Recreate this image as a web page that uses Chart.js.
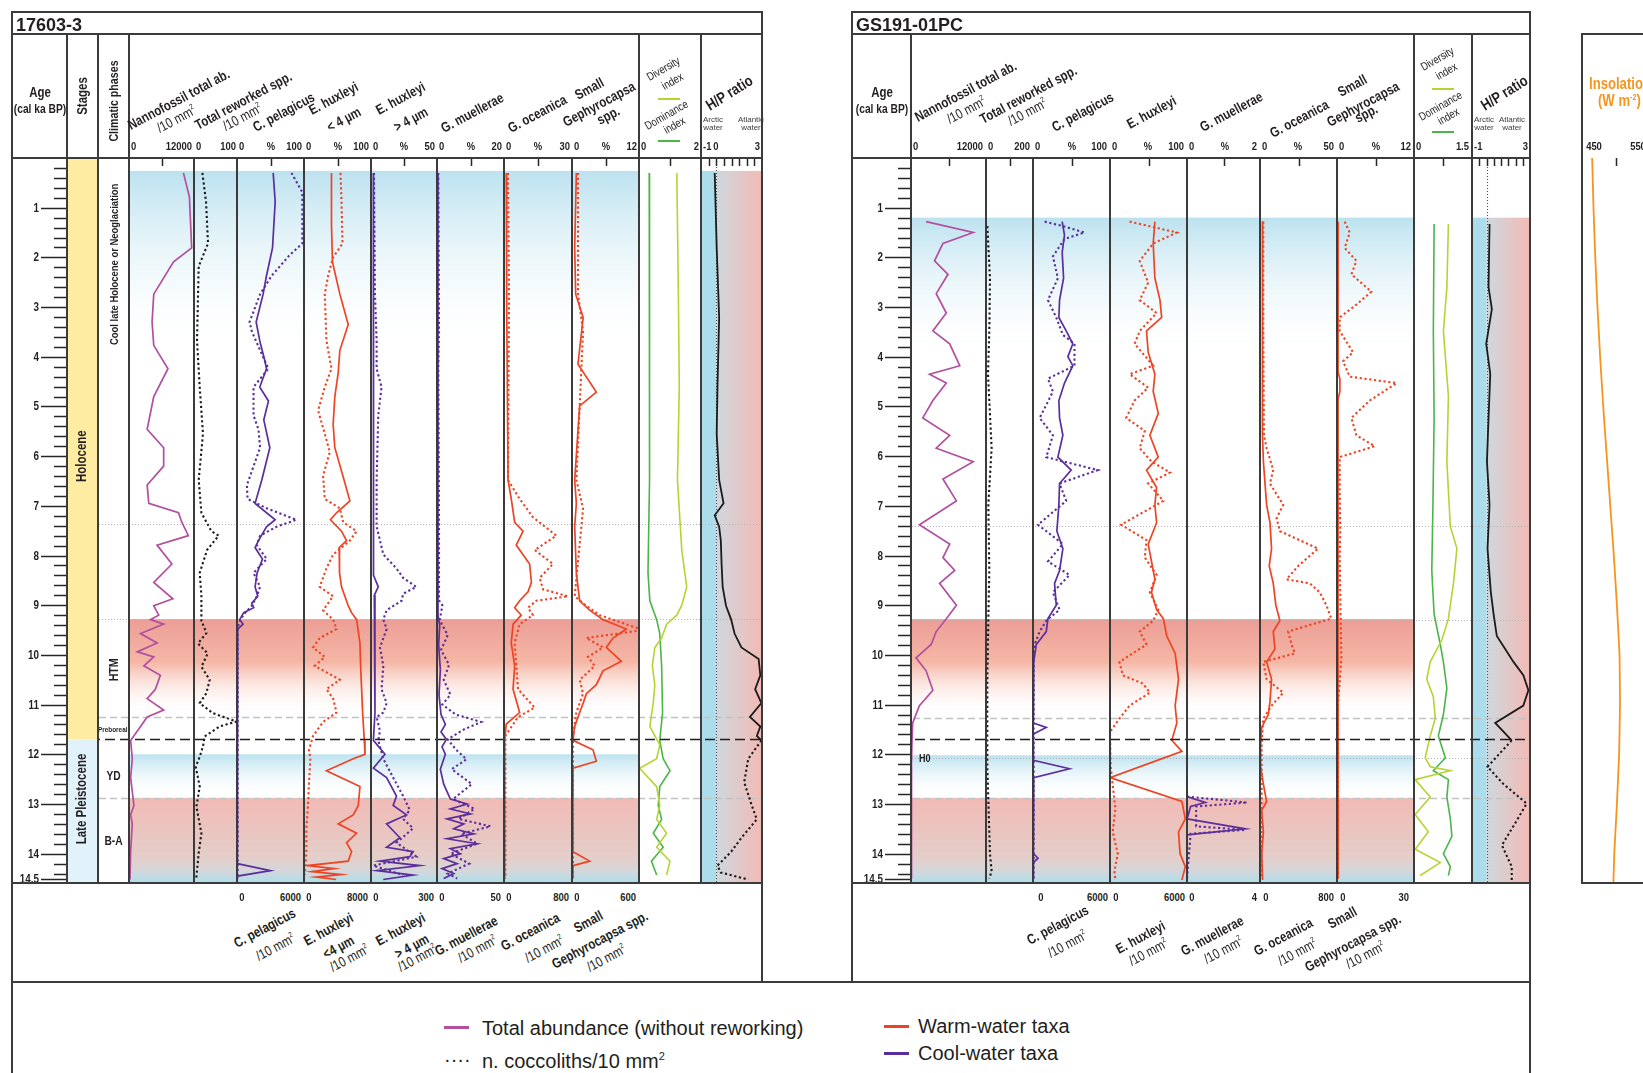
<!DOCTYPE html>
<html>
<head>
<meta charset="utf-8">
<title>Nannofossil records 17603-3 and GS191-01PC</title>
<script src="https://cdn.jsdelivr.net/npm/chart.js@4.4.1/dist/chart.umd.min.js"></script>
<style>
  html, body { margin: 0; padding: 0; background: #fff; }
  #page { position: relative; width: 1643px; height: 1073px; overflow: hidden; color: #231f20;
          font-family: "Liberation Sans", Arial, sans-serif; }
  .t { position: absolute; white-space: nowrap; line-height: 1; }
  .ln { position: absolute; }
  .trk { position: absolute; }
  sup { font-size: 0.55em; position: relative; top: -0.75em; line-height: 0; vertical-align: baseline; }
</style>
</head>
<body>
<div id="page"></div>
<script>
// ---------------------------------------------------------------
// Age axis (cal ka BP), shared by every track
// ---------------------------------------------------------------
const AGE_MAX = 14.59;
const AGE_LABELS = [1, 2, 3, 4, 5, 6, 7, 8, 9, 10, 11, 12, 13, 14, 14.5];

// chronozones: [from, to, kind]
const BANDS_17603 = [[0.26, 4.0, 'cool'], [9.28, 11.22, 'warm'], [12.0, 12.88, 'cool'], [12.88, 14.59, 'ba']];
const BANDS_GS191 = [[1.2, 4.1, 'cool'], [9.28, 11.22, 'warm'], [12.02, 12.88, 'cool'], [12.88, 14.59, 'ba']];
// reference horizons: [age, kind]
const REFS_17603 = [[7.37, 'dot'], [9.28, 'dot'], [11.25, 'dash'], [12.88, 'dash']];
const REFS_GS191 = [[7.4, 'dot'], [9.3, 'dot'], [11.26, 'dash'], [12.07, 'dot'], [12.88, 'dash']];
const HOLOCENE_BASE = 11.7;
const HP_START_17603 = 0.26;
const HP_START_GS191 = 1.2;
// stages: [name, from, to, label age]
const STAGES = [['Holocene', 0, 11.7, 6.0], ['Late Pleistocene', 11.7, 14.59, 12.9]];
// climatic phases: [name, label age, orientation]
const PHASES = [['Cool late Holocene or Neoglaciation', 2.14, 'v'], ['HTM', 10.3, 'v'],
                ['Preboreal', 11.5, 'h'], ['YD', 12.45, 'h'], ['B-A', 13.75, 'h']];

// ---------------------------------------------------------------
// 17603-3  ([age, value] pairs)
// ---------------------------------------------------------------
const NANNO_17603 = [[0.3,10050],[0.78,11150],[1.81,11570],[2.09,8220],[2.74,4570],[3.3,4260],[3.77,4570],[4.24,7190],[4.8,4570],[5.46,3350],[5.83,6400],[6.2,6400],[6.58,3350],[6.95,3650],[7.14,9140],[7.33,9750],[7.6,10960],[7.79,5180],[8.17,7920],[8.54,4570],[8.87,8100],[9.01,4570],[9.2,5480],[9.29,3960],[9.38,6400],[9.57,2130],[9.76,5180],[9.94,1520],[10.04,4570],[10.22,2740],[10.41,5790],[10.69,4870],[10.88,3350],[11.11,6400],[11.25,3350],[11.44,2130],[11.72,300],[12.09,610],[12.47,300],[13.03,910],[13.22,300],[13.4,610],[13.96,300],[14.52,180]];
const REWORK_17603 = [[0.3,19.5],[0.88,28],[1.72,32.6],[2.18,10.9],[3.68,7],[4.61,13.3],[5.55,20.9],[6.48,10.9],[7.14,17.2],[7.51,40.5],[7.6,57.4],[7.89,30.2],[8.35,13.3],[8.82,17.2],[9.31,17.2],[9.56,28.8],[9.77,9.3],[9.97,31.9],[10.24,17.2],[10.5,36.5],[10.77,28.8],[10.97,13.3],[11.17,43.5],[11.34,98.6],[11.44,59.8],[11.64,24.9],[11.84,20.9],[12.05,13.3],[12.25,4],[12.65,13.3],[13.05,5.6],[13.59,17.2],[13.99,10.9],[14.46,5.6],[14.52,4]];
const PEL_PCT_17603 = [[0.3,54],[0.88,57],[1.81,53],[2.37,44],[2.74,39],[3.3,28.6],[3.68,34],[4.05,41],[4.24,44],[4.61,34],[4.89,47],[5.27,40],[5.83,49],[6.48,37],[6.95,27],[7.28,57],[7.42,44],[7.7,32],[7.84,27],[8.07,38],[8.35,30],[8.63,27],[8.82,31],[8.96,22],[9.05,25],[9.15,10],[9.29,4],[9.38,9],[9.48,1],[10.22,0.5],[12,0.5],[14.2,0.6],[14.34,50],[14.45,1],[14.52,0.5]];
const PEL_ABS_17603 = [[0.3,4877],[0.69,5852],[1.72,5852],[1.95,4729],[2.37,3103],[2.74,2069],[3.3,1123],[3.49,1330],[3.87,2069],[4.24,2808],[4.61,1478],[5.18,1478],[5.46,1921],[5.83,2069],[6.3,1330],[6.58,887],[6.86,946],[7.05,2660],[7.28,5320],[7.42,3547],[7.6,2069],[7.79,1773],[8.07,2660],[8.35,1478],[8.63,2069],[8.82,1773],[9.01,1330],[9.15,739],[9.29,296],[9.38,148],[9.5,60],[14.5,60]];
const HUXS_PCT_17603 = [[0.3,41],[1.34,41],[2.09,42.5],[2.74,53.5],[3.35,66],[3.87,53.5],[4.33,51],[4.8,46],[5.36,43.5],[5.83,46],[6.3,56],[6.9,68.5],[7.14,48.5],[7.28,39.5],[7.51,56],[7.7,63.5],[7.84,52.5],[8.07,53.5],[8.35,52.5],[8.63,56],[8.82,61],[9.01,66],[9.15,71],[9.29,78.5],[9.76,83.5],[10.22,84.5],[10.69,86],[11.16,87.5],[11.72,90],[12.0,91],[12.09,73.5],[12.33,33.5],[12.65,83.5],[13.03,81],[13.22,73.5],[13.4,51],[13.59,78.5],[13.78,63.5],[13.96,71],[14.15,66],[14.24,5],[14.3,45],[14.36,12],[14.42,55],[14.47,18],[14.52,48]];
const HUXS_ABS_17603 = [[0.3,4360],[0.88,4480],[1.72,4600],[2.0,3480],[2.37,2880],[2.74,2480],[3.3,2600],[3.68,2680],[4.24,3280],[4.61,2480],[5.08,1680],[5.55,2480],[5.92,3080],[6.39,2280],[6.86,2480],[7.05,4280],[7.33,4680],[7.51,6280],[7.7,5480],[7.98,3480],[8.26,2680],[8.63,1880],[8.82,3480],[9.1,2280],[9.29,3480],[9.48,3880],[9.66,1880],[9.85,1080],[10.04,2480],[10.22,1280],[10.5,4280],[10.69,2680],[10.88,3480],[11.16,3880],[11.35,2280],[11.63,1080],[11.91,600],[12.09,760],[12.56,600],[13.03,480],[13.49,280],[13.96,280],[14.43,80]];
const HUXL_PCT_17603 = [[0.3,1.8],[4,1.8],[8.4,2],[8.63,5.5],[8.8,2.5],[9.29,3],[11.16,3],[11.72,1.8],[12.0,10.6],[12.28,1.8],[12.47,11.8],[12.84,19.3],[13.03,16.8],[13.22,26.9],[13.4,11.8],[13.68,21.9],[13.87,11.8],[13.96,31.9],[14.06,29.4],[14.15,6.8],[14.24,36.9],[14.34,4.3],[14.43,31.9],[14.52,9.3]];
const HUXL_ABS_17603 = [[0.3,13.6],[2.74,18],[3.68,25.6],[4.24,25.6],[4.61,48],[5.18,33],[6.48,25.6],[7.42,25.6],[7.98,56],[8.26,116],[8.45,146],[8.63,206],[8.77,146],[8.91,139],[9.1,71],[9.29,56],[9.48,71],[9.85,40.7],[10.22,56],[10.69,48],[10.97,71],[11.16,56],[11.25,25.6],[11.53,40.7],[11.72,33],[12.09,56],[12.47,101],[12.84,146],[13.12,176],[13.3,146],[13.49,191],[13.78,116],[14.06,206],[14.24,10.5],[14.43,146]];
const MUEL_PCT_17603 = [[0.3,0.3],[9.2,0.3],[9.4,0.8],[9.8,0.5],[10.3,1],[10.8,0.6],[11.2,1.2],[11.4,2.5],[11.55,1.2],[11.7,2.8],[11.85,1.5],[12.0,2.5],[12.3,1],[12.6,2],[12.9,4],[13.0,9],[13.1,4],[13.2,10],[13.3,3],[13.4,8],[13.5,5],[13.6,11],[13.7,3],[13.8,12],[13.9,4],[14.0,7],[14.1,2],[14.2,6],[14.3,1.5],[14.4,5],[14.5,2]];
const MUEL_ABS_17603 = [[0.3,1],[3.5,1.5],[4.2,1],[7.3,1.5],[8.9,1.5],[9.0,4],[9.3,2],[9.6,8],[9.9,3],[10.2,9],[10.5,5],[10.8,10],[11.0,4],[11.2,14],[11.35,33],[11.5,20],[11.7,8],[11.9,14],[12.1,22],[12.3,11],[12.6,26],[12.9,12],[13.1,28],[13.3,16],[13.45,40],[13.6,18],[13.8,30],[14.0,10],[14.2,24],[14.4,8],[14.5,15]];
const OCE_PCT_17603 = [[0.3,1.0],[3,1.2],[6.48,1.8],[6.86,3.2],[7.33,4.7],[7.51,8.4],[7.79,5.4],[8.17,11.3],[8.54,12.1],[8.73,10.6],[8.91,6.9],[9.05,4.7],[9.2,7.6],[9.38,4],[9.76,3.2],[10.22,4.7],[10.69,4],[11.16,6.9],[11.39,1.0],[11.72,0.3],[14.5,0.3]];
const OCE_ABS_17603 = [[0.3,47],[2.74,59],[6.48,47],[6.86,184],[7.23,341],[7.6,616],[7.89,361],[8.17,576],[8.45,420],[8.68,459],[8.82,753],[8.91,380],[9.05,282],[9.2,341],[9.38,184],[9.76,125],[10.22,145],[10.69,165],[11.06,361],[11.25,165],[11.63,16],[14.5,16]];
const SGEP_PCT_17603 = [[0.3,0.78],[1.81,0.48],[2.74,0.66],[3.21,2.0],[4.15,1.07],[4.71,4.36],[4.99,1.37],[6.48,0.48],[6.95,0.78],[7.42,0.48],[8.35,0.78],[8.91,1.37],[9.1,3.16],[9.29,5.55],[9.48,9.73],[9.66,7.34],[9.85,6.15],[10.13,8.84],[10.32,5.55],[10.6,4.36],[10.78,2.57],[10.97,2.0],[11.16,1.37],[11.44,0.48],[11.72,0.18],[11.91,3.76],[12.14,4.36],[12.28,0.18],[13.96,0.18],[14.15,3.16],[14.24,0.18],[14.5,0.18]];
const SGEP_ABS_17603 = [[0.3,54],[2.74,54],[3.49,99],[6.48,39],[7.05,99],[7.42,84],[8.82,24],[9.01,128],[9.2,248],[9.5,636],[9.66,128],[9.85,278],[10.04,143],[10.22,203],[10.5,69],[10.78,99],[11.16,39],[11.63,9],[14.5,9]];
const DIV_17603 = [[0.3,1.22],[2.74,1.27],[4.61,1.3],[6.48,1.24],[7.89,1.38],[8.63,1.54],[9.0,1.38],[9.2,1.22],[9.38,0.89],[9.66,0.73],[9.85,0.51],[10.22,0.43],[10.6,0.51],[10.97,0.46],[11.44,0.35],[11.81,0.67],[12.09,0.57],[12.28,0.02],[12.65,0.57],[13.03,0.67],[13.31,0.57],[13.59,0.89],[13.87,0.57],[14.15,1.0],[14.43,0.89]];
const DOM_17603 = [[0.3,0.33],[2.74,0.33],[6.48,0.35],[8.35,0.29],[8.91,0.35],[9.29,0.57],[9.57,0.67],[10.22,0.73],[11.16,0.76],[11.72,0.67],[12.09,0.78],[12.33,1.0],[12.65,0.67],[13.03,0.62],[13.31,0.73],[13.59,0.46],[13.87,0.78],[14.15,0.4],[14.43,0.57]];
const HP_17603 = [[0.3,-0.1],[1.81,0.03],[3.21,0.19],[4.61,0.08],[5.55,0.03],[6.48,0.19],[6.95,0.48],[7.19,-0.1],[7.42,0.19],[7.7,0.3],[8.17,0.35],[8.63,0.42],[9.01,0.64],[9.29,0.98],[9.57,1.2],[9.85,1.65],[10.08,2.78],[10.41,2.89],[10.69,2.55],[10.97,2.96],[11.25,2.21],[11.44,2.89],[11.63,2.66],[11.72,2.96]];
const HP_PLEIST_17603 = [[11.72,2.96],[12.09,2.1],[12.56,1.83],[13.03,2.33],[13.31,2.66],[13.68,1.65],[13.96,0.98],[14.24,0.08],[14.38,0.3],[14.52,2.1]];

// ---------------------------------------------------------------
// GS191-01PC
// ---------------------------------------------------------------
const NANNO_GS191 = [[1.28,2422],[1.5,9955],[1.72,5112],[2.07,3767],[2.34,5919],[2.73,4036],[3.12,5650],[3.48,3498],[3.74,6188],[4.18,7803],[4.35,2960],[4.53,5650],[4.88,3498],[5.23,1883],[5.58,6188],[5.84,4036],[6.11,9955],[6.46,5112],[6.9,7265],[7.38,1345],[7.77,6188],[8.04,5112],[8.3,6996],[8.56,4574],[9.0,7265],[9.27,5650],[9.53,4036],[9.79,3229],[10.06,807],[10.32,2422],[10.71,3498],[11.02,1345],[11.37,269],[11.72,161],[12.25,60],[13.0,100],[13.3,60],[14.0,120],[14.5,60]];
const REWORK_GS191 = [[1.37,5.6],[2.42,16.9],[3.48,14.1],[4.35,8.5],[5.84,23.9],[6.98,9.9],[8.3,14.1],[9.27,9.9],[10.49,5.6],[12.25,5.6],[14.0,16.9],[14.35,23.9],[14.5,14]];
const PEL_PCT_GS191 = [[1.28,37.9],[1.55,40.9],[1.9,37.9],[2.42,39.7],[2.86,34.5],[3.21,33.6],[3.48,43.1],[3.74,51.7],[4.0,45.3],[4.18,51.7],[4.53,40.9],[4.88,33.6],[5.23,34.5],[5.58,38.8],[6.02,32.3],[6.28,49.6],[6.55,34.5],[6.98,33.6],[7.51,31],[7.86,38.8],[8.3,34.5],[8.56,28],[9.0,30.2],[9.27,19.4],[9.53,17.2],[9.79,4.3],[10.14,0.9],[11.37,0.5],[11.46,17.2],[11.59,0.5],[12.12,0.5],[12.29,47.4],[12.47,0.9],[14.0,0.5],[14.09,6.5],[14.18,0.5],[14.5,0.5]];
const PEL_ABS_GS191 = [[1.28,905],[1.37,2328],[1.5,4009],[1.63,2457],[1.98,1552],[2.42,1940],[2.86,1164],[3.21,1810],[3.56,2328],[3.74,3233],[4.18,3233],[4.44,1164],[4.7,1552],[4.97,1034],[5.23,517],[5.58,1552],[6.02,1034],[6.28,5043],[6.55,2069],[6.9,2586],[7.38,388],[7.77,2328],[8.12,1164],[8.39,2845],[8.74,1552],[9.09,2069],[9.31,1034],[9.53,517],[9.79,129],[10.14,52],[14.5,52]];
const HUX_PCT_GS191 = [[1.28,58.3],[1.72,56.1],[2.42,58.3],[2.86,64.9],[3.21,67.1],[3.48,47.4],[3.91,49.6],[4.35,58.3],[4.7,56.1],[5.14,62.7],[5.58,51.8],[6.02,62.7],[6.28,47.4],[6.63,60.5],[6.98,58.3],[7.34,60.5],[7.77,49.6],[8.12,53.9],[8.48,58.3],[8.74,53.9],[9.09,60.5],[9.27,69.3],[9.62,73.7],[9.97,84.6],[10.49,89],[11.02,84.6],[11.37,86.8],[11.72,80.3],[11.94,93.4],[12.47,0],[12.95,93.4],[13.3,97.8],[13.56,89],[14.0,91],[14.26,97.8],[14.53,93.4]];
const HUX_ABS_GS191 = [[1.28,1526],[1.5,5210],[1.72,3368],[2.07,2316],[2.51,2974],[2.86,2316],[3.12,3632],[3.48,2316],[3.74,1921],[4.18,3368],[4.35,1526],[4.62,2974],[4.88,1921],[5.23,1263],[5.49,2711],[5.84,2316],[6.11,3237],[6.33,4684],[6.55,2974],[6.9,4158],[7.38,868],[7.69,2842],[8.04,2711],[8.39,3632],[8.74,3105],[9.09,3763],[9.31,3368],[9.53,2316],[9.79,2842],[10.14,737],[10.41,1000],[10.58,2579],[10.76,3105],[11.02,1526],[11.28,737],[11.55,0],[12.25,53],[13.1,421],[13.56,211],[14.0,605],[14.35,342],[14.5,400]];
const MUEL_PCT_GS191 = [[1.28,0],[12.85,0],[12.97,0.5],[13.05,0.1],[13.3,0],[13.5,1.6],[13.62,0],[14.5,0]];
const MUEL_ABS_GS191 = [[12.85,0],[12.97,3.3],[13.05,0.5],[13.45,0.5],[13.52,3.2],[13.6,0.2],[14.5,0]];
const OCE_PCT_GS191 = [[1.28,1.7],[3.48,1.5],[5.58,1.7],[6.11,2.2],[6.98,4.3],[7.34,6.5],[7.86,7.5],[8.21,6.0],[8.56,8.6],[9.0,10.3],[9.31,12.9],[9.53,8.6],[9.88,9.7],[10.14,4.3],[10.49,7.5],[10.93,6.5],[11.2,5.4],[11.46,1.1],[11.81,0.4],[12.25,0.4],[12.6,2.2],[12.95,4.3],[13.13,1.1],[13.56,2.2],[14.0,1.1],[14.53,1.7]];
const OCE_ABS_GS191 = [[1.28,34],[3.48,34],[5.58,41],[5.84,69],[6.28,138],[6.55,103],[6.98,241],[7.25,172],[7.51,207],[7.86,603],[8.21,397],[8.48,276],[8.56,517],[8.74,621],[9.0,690],[9.27,741],[9.53,293],[9.79,328],[9.97,362],[10.14,34],[10.49,69],[10.76,241],[11.02,121],[11.28,34],[11.81,17],[14.5,17]];
const SGEP_PCT_GS191 = [[1.28,0.16],[4.3,0.16],[4.45,0.45],[4.7,0.45],[4.85,0.16],[14.5,0.16]];
const SGEP_ABS_GS191 = [[1.28,3.0],[1.5,4.96],[1.81,3.0],[2.07,7.57],[2.34,5.6],[2.69,13.4],[2.95,7.57],[3.21,1.04],[3.48,1.04],[3.91,6.26],[4.09,2.35],[4.4,4.96],[4.53,23.2],[4.88,12.8],[5.23,5.6],[5.58,7.57],[5.8,14.7],[6.02,1.04],[6.72,1.04],[7.5,1.3],[8.04,1.04],[10.06,1.7],[11.0,0.4],[14.5,0.4]];
const DIV_GS191 = [[1.33,0.89],[2.6,0.85],[3.48,0.76],[4.79,0.89],[6.11,0.85],[7.42,0.94],[7.86,1.11],[8.56,1.02],[9.27,0.89],[9.7,0.72],[10.14,0.42],[10.49,0.33],[10.84,0.5],[11.28,0.55],[11.63,0.42],[12.07,0.29],[12.25,0.42],[12.33,0.94],[12.51,0.03],[12.86,0.42],[13.21,0.03],[13.56,0.37],[13.91,0.03],[14.18,0.68],[14.44,0.16]];
const DOM_GS191 = [[1.33,0.52],[3.48,0.5],[5.23,0.52],[6.98,0.49],[8.3,0.46],[9.18,0.52],[9.79,0.68],[10.14,0.76],[10.67,0.85],[11.2,0.76],[11.63,0.63],[12.07,0.81],[12.33,0.5],[12.51,0.89],[12.86,0.85],[13.3,0.94],[13.65,0.98],[14.0,0.76],[14.26,0.94],[14.44,0.89]];
const HP_GS191 = [[1.33,0.21],[2.6,0.14],[3.04,0.37],[3.74,-0.02],[4.35,0.26],[5.23,0.14],[6.11,0.03],[6.98,0.21],[7.86,0.07],[8.74,0.3],[9.18,0.49],[9.62,0.71],[9.88,1.29],[10.14,1.86],[10.41,2.54],[10.71,2.89],[11.02,2.54],[11.37,0.6],[11.72,1.74]];
const HP_PLEIST_GS191 = [[11.72,1.74],[12.25,0.07],[12.6,1.17],[12.99,2.77],[13.39,1.97],[13.83,1.06],[14.26,1.74],[14.53,1.74]];

// summer insolation (W m-2)
const INSOLATION = [[0,446],[1,449],[2,453],[3,458],[4,464],[5,471],[6,479],[7,487],[8,495],[9,502],[10,508],[11,509],[12,507],[13,502],[14,496],[14.59,494]];

// ---------------------------------------------------------------
// styles
// ---------------------------------------------------------------
const COL = { total: '#b24f9e', cool: '#5a2e9c', warm: '#ee4424', div: '#b6d334', dom: '#4bb548',
              black: '#1b1b1b', ins: '#f7941d', frame: '#3b3b3b' };
const BAND_STOPS = {
  cool: [[0, 'rgb(188,226,239)'], [1, 'rgba(255,255,255,0)']],
  warm: [[0, 'rgb(236,158,150)'], [0.45, 'rgb(245,183,166)'], [1, 'rgba(255,255,255,0)']],
  ba:   [[0, 'rgb(242,186,181)'], [0.7, 'rgb(228,206,201)'], [0.86, 'rgb(212,215,218)'], [1, 'rgb(172,222,237)']]
};
const STAGE_FILL = { 'Holocene': 'rgb(253,236,162)', 'Late Pleistocene': 'rgb(226,242,250)' };
const PLOT_TOP = 158, PLOT_BOTTOM = 883;

const page = document.getElementById('page');

// condensed face if present, otherwise squeeze the regular face
const probe = document.createElement('canvas').getContext('2d');
probe.font = '40px "Liberation Sans Narrow", monospace';
const wNarrow = probe.measureText('Narrow face probe').width;
probe.font = '40px monospace';
const wMono = probe.measureText('Narrow face probe').width;
const HAS_NARROW = Math.abs(wNarrow - wMono) > 1;
const NARROW = HAS_NARROW ? '"Liberation Sans Narrow", "Liberation Sans", sans-serif' : '"Liberation Sans", Arial, sans-serif';
const SX = HAS_NARROW ? 1 : 0.82;
const REGULAR = '"Liberation Sans", Arial, sans-serif';

// ---------------------------------------------------------------
// HTML helpers: text and frame lines
// ---------------------------------------------------------------
function txt(html, x, y, o = {}) {
  const e = document.createElement('div');
  e.className = 't';
  e.innerHTML = html;
  const size = o.size || 14;
  const narrow = o.narrow !== false;
  e.style.fontSize = size + 'px';
  e.style.fontFamily = narrow ? NARROW : REGULAR;
  e.style.fontWeight = o.bold ? 'bold' : 'normal';
  if (o.color) e.style.color = o.color;
  const sx = narrow ? SX : 1;
  let tf = '';
  if (o.center) {
    e.style.left = x + 'px'; e.style.top = y + 'px';
    tf = `translate(-50%,-50%) rotate(${o.rot || 0}deg) scaleX(${sx})`;
  } else {
    const base = 0.85 * size;
    e.style.left = x + 'px'; e.style.top = (y - base) + 'px';
    e.style.transformOrigin = `0 ${base}px`;
    if (o.align === 'right') tf += 'translateX(-100%) ';
    if (o.align === 'middle') tf += 'translateX(-50%) ';
    if (o.rot) tf += `rotate(${o.rot}deg) `;
    tf += `scaleX(${sx})`;
    if (o.align === 'right') e.style.transformOrigin = `100% ${base}px`;
    if (o.align === 'middle') e.style.transformOrigin = `50% ${base}px`;
  }
  e.style.transform = tf;
  page.appendChild(e);
  return e;
}
function vl(x, y0, y1, w = 1.7, c = COL.frame) {
  const e = document.createElement('div'); e.className = 'ln';
  e.style.left = (x - w / 2) + 'px'; e.style.top = (y0 - w / 2) + 'px';
  e.style.width = w + 'px'; e.style.height = (y1 - y0 + w) + 'px'; e.style.background = c;
  page.appendChild(e);
}
function hl(x0, x1, y, w = 1.7, c = COL.frame) {
  const e = document.createElement('div'); e.className = 'ln';
  e.style.left = (x0 - w / 2) + 'px'; e.style.top = (y - w / 2) + 'px';
  e.style.width = (x1 - x0 + w) + 'px'; e.style.height = w + 'px'; e.style.background = c;
  page.appendChild(e);
}

// ---------------------------------------------------------------
// Chart.js plugin: zones, reference horizons, ticks and in-plot labels
// ---------------------------------------------------------------
const CFG = new WeakMap();
function ctext(ctx, s, x, y, size, align, rot) {
  ctx.save();
  ctx.translate(x, y);
  if (rot) ctx.rotate(rot);
  ctx.scale(SX, 1);
  ctx.font = `bold ${size}px ${NARROW}`;
  ctx.fillStyle = '#231f20';
  ctx.textAlign = align; ctx.textBaseline = 'middle';
  ctx.fillText(s, 0, 0);
  ctx.restore();
}
Chart.register({
  id: 'coreLog',
  beforeDatasetsDraw(chart) {
    const c = CFG.get(chart.canvas); if (!c) return;
    const { ctx, chartArea: a } = chart; const ys = chart.scales.y, xs = chart.scales.x;
    ctx.save();
    ctx.beginPath(); ctx.rect(a.left, a.top, a.width, a.height); ctx.clip();
    if (c.stages) for (const [name, f, t, at] of c.stages) {
      const y0 = ys.getPixelForValue(f), y1 = ys.getPixelForValue(t);
      ctx.fillStyle = STAGE_FILL[name]; ctx.fillRect(a.left, y0, a.width, y1 - y0);
      ctext(ctx, name, (a.left + a.right) / 2, ys.getPixelForValue(at), 14, 'center', -Math.PI / 2);
    }
    if (c.bands) for (const [f, t, k] of c.bands) {
      const y0 = ys.getPixelForValue(f), y1 = ys.getPixelForValue(t);
      const g = ctx.createLinearGradient(0, y0, 0, y1);
      for (const [p, col] of BAND_STOPS[k]) g.addColorStop(p, col);
      ctx.fillStyle = g; ctx.fillRect(a.left, y0, a.width, y1 - y0);
    }
    if (c.hpFrom != null) {
      const y0 = ys.getPixelForValue(c.hpFrom), y1 = a.bottom;
      const xm = xs.getPixelForValue(-1), x0 = xs.getPixelForValue(0), x3 = xs.getPixelForValue(3);
      ctx.fillStyle = 'rgb(172,221,237)'; ctx.fillRect(xm, y0, x0 - xm, y1 - y0);
      const g = ctx.createLinearGradient(x0, 0, x3, 0);
      g.addColorStop(0, 'rgb(206,216,223)'); g.addColorStop(1, 'rgb(243,186,180)');
      ctx.fillStyle = g; ctx.fillRect(x0, y0, x3 - x0, y1 - y0);
      ctx.setLineDash([1, 2]); ctx.strokeStyle = '#4d4d4d'; ctx.lineWidth = 1.1;
      ctx.beginPath(); ctx.moveTo(Math.round(x0) + 0.5, a.top); ctx.lineTo(Math.round(x0) + 0.5, a.bottom); ctx.stroke();
    }
    if (c.refs) for (const [age, kind] of c.refs) {
      const y = Math.round(ys.getPixelForValue(age)) + 0.5;
      ctx.setLineDash(kind === 'dot' ? [1, 2] : [7, 4]);
      ctx.lineDashOffset = c.x0;
      ctx.strokeStyle = kind === 'dot' ? '#b4b4b4' : '#c2c2c2';
      ctx.lineWidth = kind === 'dot' ? 1 : 1.4;
      ctx.beginPath(); ctx.moveTo(a.left, y); ctx.lineTo(a.right, y); ctx.stroke();
    }
    if (c.phases) for (const [name, at, o] of c.phases) {
      const y = ys.getPixelForValue(at), cx = (a.left + a.right) / 2;
      if (o === 'v') ctext(ctx, name, cx + 1, y, name.length > 6 ? 11.5 : 13, 'center', -Math.PI / 2);
      else if (name.length > 4) ctext(ctx, name, a.left, y, 7.8, 'left', 0);
      else ctext(ctx, name, cx, y, 12.5, 'center', 0);
    }
    ctx.restore();
  },
  afterDatasetsDraw(chart) {
    const c = CFG.get(chart.canvas); if (!c) return;
    const { ctx, chartArea: a } = chart; const ys = chart.scales.y, xs = chart.scales.x;
    ctx.save();
    if (c.boundary != null) {
      const y = Math.round(ys.getPixelForValue(c.boundary)) + 0.5;
      ctx.setLineDash([10, 5]); ctx.lineDashOffset = c.x0;
      ctx.strokeStyle = '#1e1e1e'; ctx.lineWidth = 1.6;
      ctx.beginPath(); ctx.moveTo(a.left, y); ctx.lineTo(a.right, y); ctx.stroke();
    }
    ctx.setLineDash([]);
    if (c.ticks) {
      ctx.strokeStyle = '#262626'; ctx.lineWidth = 1.5;
      for (const v of c.ticks) {
        const x = Math.round(xs.getPixelForValue(v)) + 0.5;
        ctx.beginPath(); ctx.moveTo(x, a.top); ctx.lineTo(x, a.top + 8); ctx.stroke();
      }
    }
    if (c.ageAxis) {
      ctx.strokeStyle = '#262626'; ctx.lineWidth = 1.5;
      for (let i = 1; i * 0.2 < AGE_MAX; i++) {
        if (i % 5 === 0) continue;
        const y = Math.round(ys.getPixelForValue(i * 0.2)) + 0.5;
        ctx.beginPath(); ctx.moveTo(a.right - 13, y); ctx.lineTo(a.right, y); ctx.stroke();
      }
      for (const v of AGE_LABELS) {
        const y = Math.round(ys.getPixelForValue(v)) + 0.5;
        ctx.beginPath(); ctx.moveTo(a.right - 26, y); ctx.lineTo(a.right, y); ctx.stroke();
        ctext(ctx, String(v), a.right - 28, y, 12, 'right', 0);
      }
    }
    if (c.notes) for (const [s, at, dx] of c.notes) ctext(ctx, s, a.left + dx, ys.getPixelForValue(at), 11, 'left', 0);
    ctx.restore();
  }
});

// ---------------------------------------------------------------
// one Chart.js instance per column
// ---------------------------------------------------------------
function series(d, color, o = {}) {
  return {
    data: d.map(([age, v]) => ({ x: v, y: age })),
    xAxisID: o.abs ? 'xa' : 'x',
    showLine: true, fill: false, tension: 0,
    borderColor: color, backgroundColor: color,
    borderWidth: o.dot ? 2.1 : (o.w || 1.7),
    borderDash: o.dot ? [2.2, 2.6] : [],
    pointRadius: 0, pointHoverRadius: 0
  };
}
function column(x0, x1, cfg) {
  const box = document.createElement('div');
  box.className = 'trk';
  box.style.left = x0 + 'px'; box.style.top = PLOT_TOP + 'px';
  box.style.width = (x1 - x0) + 'px'; box.style.height = (PLOT_BOTTOM - PLOT_TOP) + 'px';
  const cv = document.createElement('canvas');
  box.appendChild(cv); page.appendChild(box);
  CFG.set(cv, Object.assign({ x0 }, cfg));
  const scales = {
    y: { type: 'linear', reverse: true, min: 0, max: AGE_MAX, display: false },
    x: { type: 'linear', min: (cfg.x || [0, 1])[0], max: (cfg.x || [0, 1])[1], display: false }
  };
  if (cfg.xa) scales.xa = { type: 'linear', axis: 'x', min: cfg.xa[0], max: cfg.xa[1], display: false };
  return new Chart(cv, {
    type: 'scatter',
    data: { datasets: cfg.series || [] },
    options: {
      responsive: true, maintainAspectRatio: false, animation: false, events: [],
      layout: { padding: 0 },
      plugins: { legend: { display: false }, tooltip: { enabled: false } },
      scales
    }
  });
}

// ---------------------------------------------------------------
// 17603-3
// ---------------------------------------------------------------
{
  const zone = { bands: BANDS_17603, refs: REFS_17603, boundary: HOLOCENE_BASE };
  const line = { refs: REFS_17603, boundary: HOLOCENE_BASE };
  column(12, 67, { ageAxis: true });
  column(67, 98, { stages: STAGES });
  column(98, 129, Object.assign({ phases: PHASES }, line));
  column(129, 194, Object.assign({ x: [0, 12000], ticks: [6000], series: [series(NANNO_17603, COL.total)] }, zone));
  column(194, 237, Object.assign({ x: [0, 100], series: [series(REWORK_17603, COL.black, { dot: true })] }, zone));
  column(237, 304, Object.assign({ x: [0, 100], xa: [0, 6000], ticks: [50],
    series: [series(PEL_PCT_17603, COL.cool), series(PEL_ABS_17603, COL.cool, { dot: true, abs: true })] }, zone));
  column(304, 371, Object.assign({ x: [0, 100], xa: [0, 8000], ticks: [50],
    series: [series(HUXS_PCT_17603, COL.warm), series(HUXS_ABS_17603, COL.warm, { dot: true, abs: true })] }, zone));
  column(371, 437, Object.assign({ x: [0, 50], xa: [0, 300], ticks: [25],
    series: [series(HUXL_PCT_17603, COL.cool), series(HUXL_ABS_17603, COL.cool, { dot: true, abs: true })] }, zone));
  column(437, 504, Object.assign({ x: [0, 20], xa: [0, 50], ticks: [10],
    series: [series(MUEL_PCT_17603, COL.cool), series(MUEL_ABS_17603, COL.cool, { dot: true, abs: true })] }, zone));
  column(504, 572, Object.assign({ x: [0, 30], xa: [0, 800], ticks: [15],
    series: [series(OCE_PCT_17603, COL.warm), series(OCE_ABS_17603, COL.warm, { dot: true, abs: true })] }, zone));
  column(572, 639, Object.assign({ x: [0, 12], xa: [0, 600], ticks: [6],
    series: [series(SGEP_PCT_17603, COL.warm), series(SGEP_ABS_17603, COL.warm, { dot: true, abs: true })] }, zone));
  column(639, 701, Object.assign({ x: [0, 2], ticks: [1],
    series: [series(DIV_17603, COL.div, { w: 1.6 }), series(DOM_17603, COL.dom, { w: 1.6 })] }, line));
  column(701, 762, Object.assign({ x: [-1, 3], hpFrom: HP_START_17603, ticks: [-0.5, 0, 0.5, 1, 1.5, 2, 2.5],
    series: [series(HP_17603, COL.black, { w: 1.8 }), series(HP_PLEIST_17603, COL.black, { dot: true })] }, line));
}

// ---------------------------------------------------------------
// GS191-01PC
// ---------------------------------------------------------------
{
  const zone = { bands: BANDS_GS191, refs: REFS_GS191, boundary: HOLOCENE_BASE };
  const line = { refs: REFS_GS191, boundary: HOLOCENE_BASE };
  column(852, 911, { ageAxis: true });
  column(911, 986, Object.assign({ x: [0, 12000], ticks: [6000], notes: [['H0', 12.1, 8]],
    series: [series(NANNO_GS191, COL.total)] }, zone));
  column(986, 1033, Object.assign({ x: [0, 200], ticks: [100], series: [series(REWORK_GS191, COL.black, { dot: true })] }, zone));
  column(1033, 1110, Object.assign({ x: [0, 100], xa: [0, 6000], ticks: [50],
    series: [series(PEL_PCT_GS191, COL.cool), series(PEL_ABS_GS191, COL.cool, { dot: true, abs: true })] }, zone));
  column(1110, 1187, Object.assign({ x: [0, 100], xa: [0, 6000], ticks: [50],
    series: [series(HUX_PCT_GS191, COL.warm), series(HUX_ABS_GS191, COL.warm, { dot: true, abs: true })] }, zone));
  column(1187, 1260, Object.assign({ x: [0, 2], xa: [0, 4], ticks: [1],
    series: [series(MUEL_PCT_GS191, COL.cool), series(MUEL_ABS_GS191, COL.cool, { dot: true, abs: true })] }, zone));
  column(1260, 1337, Object.assign({ x: [0, 50], xa: [0, 800], ticks: [25],
    series: [series(OCE_PCT_GS191, COL.warm), series(OCE_ABS_GS191, COL.warm, { dot: true, abs: true })] }, zone));
  column(1337, 1414, Object.assign({ x: [0, 12], xa: [0, 30], ticks: [6],
    series: [series(SGEP_PCT_GS191, COL.warm), series(SGEP_ABS_GS191, COL.warm, { dot: true, abs: true })] }, zone));
  column(1414, 1472, Object.assign({ x: [0, 1.5], ticks: [0.75],
    series: [series(DIV_GS191, COL.div, { w: 1.6 }), series(DOM_GS191, COL.dom, { w: 1.6 })] }, line));
  column(1472, 1530, Object.assign({ x: [-1, 3], hpFrom: HP_START_GS191, ticks: [-0.5, 0, 0.5, 1, 1.5, 2, 2.5],
    series: [series(HP_GS191, COL.black, { w: 1.8 }), series(HP_PLEIST_GS191, COL.black, { dot: true })] }, line));
}

// insolation
column(1582, 1643, { x: [423, 561], ticks: [500], series: [series(INSOLATION, COL.ins, { w: 1.8 })] });

// ---------------------------------------------------------------
// frames
// ---------------------------------------------------------------
function frame(x0, x1, full, plot) {
  hl(x0, x1, 12); hl(x0, x1, 34); hl(x0, x1, 158); hl(x0, x1, 883);
  vl(x0, 12, 982); vl(x1, 12, 982);
  full.forEach(x => vl(x, 34, 883));
  plot.forEach(x => vl(x, 158, 883));
}
frame(12, 762, [67, 98, 129, 639, 701], [194, 237, 304, 371, 437, 504, 572]);
frame(852, 1530, [911, 1414, 1472], [986, 1033, 1110, 1187, 1260, 1337]);
hl(12, 1530, 982); vl(12, 982, 1080); vl(1530, 982, 1080);
vl(1582, 34, 883); hl(1582, 1650, 34); hl(1582, 1650, 883);

// ---------------------------------------------------------------
// header and axis texts
// ---------------------------------------------------------------
const MM = '/10 mm<sup>2</sup>';
const R = -28;
txt('17603-3', 16, 31, { size: 18, bold: true, narrow: false });
txt('GS191-01PC', 856, 31, { size: 18, bold: true, narrow: false });

// age / stage / phase column titles
txt('Age', 39.5, 92, { size: 14, bold: true, center: true });
txt('(cal ka BP)', 39.5, 109, { size: 12.5, bold: true, center: true });
txt('Stages', 82, 96, { size: 14, bold: true, center: true, rot: -90 });
txt('Climatic phases', 113, 101, { size: 13, bold: true, center: true, rot: -90 });
txt('Age', 881.5, 92, { size: 14, bold: true, center: true });
txt('(cal ka BP)', 881.5, 109, { size: 12.5, bold: true, center: true });

// species headers, 17603-3
[['Nannofossil total ab.', 131, 130, 1], [MM, 160, 133, 0], ['Total reworked spp.', 198, 130, 1], [MM, 226, 131, 0],
 ['C. pelagicus', 256, 132, 1], ['E. huxleyi', 312, 115, 1], ['&lt; 4 µm', 330, 132, 1],
 ['E. huxleyi', 379, 115, 1], ['&gt; 4 µm', 397, 132, 1], ['G. muellerae', 444, 133, 1],
 ['G. oceanica', 511, 133, 1], ['Small', 578, 100, 1], ['Gephyrocapsa', 566, 127, 1], ['spp.', 600, 125, 1],
 // GS191-01PC
 ['Nannofossil total ab.', 918, 122, 1], [MM, 950, 124, 0], ['Total reworked spp.', 983, 124, 1], [MM, 1011, 126, 0],
 ['C. pelagicus', 1055, 132, 1], ['E. huxleyi', 1130, 129, 1], ['G. muellerae', 1203, 132, 1],
 ['G. oceanica', 1273, 138, 1], ['Small', 1341, 97, 1], ['Gephyrocapsa', 1330, 127, 1], ['spp.', 1358, 123, 1]
].forEach(([s, x, y, b]) => txt(s, x, y, { size: 14, bold: !!b, rot: R }));

// diversity / dominance headers
function divHead(x, yDiv, yDom) {
  txt('Diversity', x, yDiv, { size: 11.5, rot: -30 });
  txt('index', x + 15, yDiv + 9, { size: 11.5, rot: -30 });
  hl(x + 9, x + 29, yDiv + 17, 2.2, COL.div);
  txt('Dominance', x - 2, yDom, { size: 11.5, rot: -30 });
  txt('index', x + 17, yDom + 4, { size: 11.5, rot: -30 });
  hl(x + 9, x + 29, yDom + 10, 2.2, COL.dom);
}
divHead(650, 82, 131);
divHead(1424, 72, 122);

// H/P headers
function hpHead(x, ax, bx) {
  txt('H/P ratio', x, 111, { size: 15.5, bold: true, rot: -32 });
  txt('Arctic', ax, 123, { size: 8, align: 'middle', narrow: false, color: '#3d3d3d' });
  txt('water', ax, 131, { size: 8, align: 'middle', narrow: false, color: '#3d3d3d' });
  txt('Atlantic', bx, 123, { size: 8, align: 'middle', narrow: false, color: '#3d3d3d' });
  txt('water', bx, 131, { size: 8, align: 'middle', narrow: false, color: '#3d3d3d' });
}
hpHead(710, 713, 751);
hpHead(1485, 1484, 1512);

// insolation header
txt('Insolation', 1589, 90, { size: 16, bold: true, color: COL.ins });
txt('(W m<sup>-2</sup>)', 1598, 107, { size: 16, bold: true, color: COL.ins });

// top scale labels: [text, x, align]
const AX = { size: 11.5, bold: true };
[['0', 131, 'left'], ['12000', 192, 'right'], ['0', 196, 'left'], ['100', 236, 'right'],
 ['0', 239, 'left'], ['%', 270.5, 'middle'], ['100', 302, 'right'],
 ['0', 306, 'left'], ['%', 337.5, 'middle'], ['100', 369, 'right'],
 ['0', 373, 'left'], ['%', 404, 'middle'], ['50', 435, 'right'],
 ['0', 439, 'left'], ['%', 470.5, 'middle'], ['20', 502, 'right'],
 ['0', 506, 'left'], ['%', 538, 'middle'], ['30', 570, 'right'],
 ['0', 574, 'left'], ['%', 605.5, 'middle'], ['12', 637, 'right'],
 ['0', 641, 'left'], ['2', 699, 'right'], ['-1', 703, 'left'], ['0', 716, 'middle'], ['3', 760, 'right'],
 ['0', 913, 'left'], ['12000', 983, 'right'], ['0', 988, 'left'], ['200', 1030, 'right'],
 ['0', 1035, 'left'], ['%', 1072, 'middle'], ['100', 1107, 'right'],
 ['0', 1112, 'left'], ['%', 1148, 'middle'], ['100', 1184, 'right'],
 ['0', 1189, 'left'], ['%', 1225, 'middle'], ['2', 1257, 'right'],
 ['0', 1262, 'left'], ['%', 1298, 'middle'], ['50', 1334, 'right'],
 ['0', 1339, 'left'], ['%', 1376, 'middle'], ['12', 1411, 'right'],
 ['0', 1416, 'left'], ['1.5', 1469, 'right'], ['-1', 1474, 'left'], ['3', 1528, 'right'],
 ['450', 1594, 'middle'], ['550', 1638, 'middle']
].forEach(([s, x, al]) => txt(s, x, 151, Object.assign({ align: al }, AX)));

// bottom scale labels (absolute abundances)
[['0', 242, 'middle'], ['6000', 301, 'right'], ['0', 309, 'middle'], ['8000', 368, 'right'],
 ['0', 376, 'middle'], ['300', 434, 'right'], ['0', 442, 'middle'], ['50', 501, 'right'],
 ['0', 509, 'middle'], ['800', 569, 'right'], ['0', 577, 'middle'], ['600', 636, 'right'],
 ['0', 1041, 'middle'], ['6000', 1108, 'right'], ['0', 1116, 'middle'], ['6000', 1185, 'right'],
 ['0', 1192, 'middle'], ['4', 1257, 'right'], ['0', 1266, 'middle'], ['800', 1334, 'right'],
 ['0', 1343, 'middle'], ['30', 1409, 'right']
].forEach(([s, x, al]) => txt(s, x, 902, Object.assign({ align: al }, AX)));

// bottom species labels
[['C. pelagicus', 237, 948, 1], [MM, 259, 961, 0], ['E. huxleyi', 307, 946, 1], ['&lt;4 µm', 326, 959, 1], [MM, 333, 972, 0],
 ['E. huxleyi', 379, 946, 1], ['&gt; 4 µm', 398, 959, 1], [MM, 401, 972, 0], ['G. muellerae', 438, 956, 1], [MM, 461, 963, 0],
 ['G. oceanica', 504, 951, 1], [MM, 528, 963, 0], ['Small', 577, 933, 1], ['Gephyrocapsa spp.', 555, 969, 1], [MM, 590, 972, 0],
 ['C. pelagicus', 1030, 945, 1], [MM, 1051, 958, 0], ['E. huxleyi', 1119, 954, 1], [MM, 1132, 966, 0],
 ['G. muellerae', 1184, 956, 1], [MM, 1207, 964, 0], ['G. oceanica', 1257, 956, 1], [MM, 1281, 966, 0],
 ['Small', 1331, 929, 1], ['Gephyrocapsa spp.', 1308, 972, 1], [MM, 1349, 969, 0]
].forEach(([s, x, y, b]) => txt(s, x, y, { size: 14, bold: !!b, rot: R }));

// ---------------------------------------------------------------
// legend
// ---------------------------------------------------------------
hl(445, 467, 1027, 3, COL.total);
txt('Total abundance (without reworking)', 482, 1035, { size: 20, narrow: false });
txt('····', 444, 1066, { size: 20, narrow: false });
txt('n. coccoliths/10 mm<sup>2</sup>', 482, 1068, { size: 20, narrow: false });
hl(885, 907, 1026, 3, COL.warm);
txt('Warm-water taxa', 918, 1033, { size: 20, narrow: false });
hl(885, 907, 1053, 3, COL.cool);
txt('Cool-water taxa', 918, 1060, { size: 20, narrow: false });
</script>
</body>
</html>
